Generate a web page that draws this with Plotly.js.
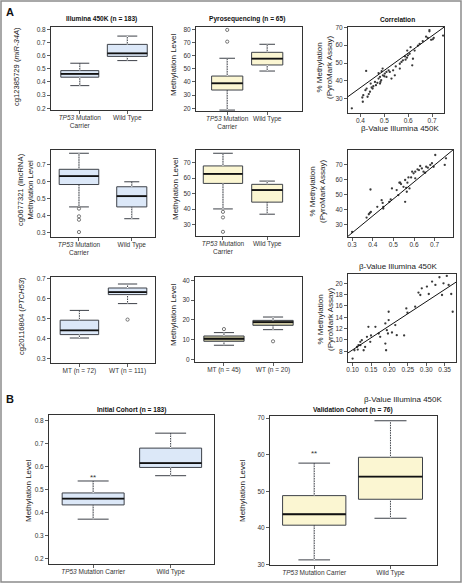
<!DOCTYPE html>
<html><head><meta charset="utf-8">
<script src="https://cdn.plot.ly/plotly-3.0.1.min.js"></script>
<style>html,body{margin:0;padding:0;background:#fff}#chart{width:462px;height:583px}</style>
</head><body><div id="chart"></div>
<script>
// ================= DATA =================
// Category tick labels
const labTP53two = ['<i>TP53</i> Mutation<br>Carrier', 'Wild Type'];
const labTP53one = ['<i>TP53</i> Mutation Carrier', 'Wild Type'];
const labMT450 = ['MT (n = 72)', 'WT (n = 111)'];
const labMTPyro = ['MT (n = 45)', 'WT (n = 20)'];

// Row 1: cg12385729 (miR-34A) - Illumina 450K
const a1Q1 = [0.436, 0.594], a1Med = [0.461, 0.617], a1Q3 = [0.486, 0.685], a1Lo = [0.372, 0.562], a1Hi = [0.542, 0.748];
const a1OutX = [], a1OutY = [];
// Row 1: Pyrosequencing
const a2Q1 = [33.9, 52.9], a2Med = [39.0, 57.7], a2Q3 = [44.5, 62.5], a2Lo = [18.7, 48.3], a2Hi = [58.0, 68.6];
const a2OutX = [0, 0], a2OutY = [79.5, 70.6];
// Row 1: correlation
const a3X = [0.364,0.410,0.408,0.412,0.421,0.426,0.435,0.440,0.447,0.454,0.461,0.471,0.476,0.482,0.487,0.494,0.482,0.493,0.489,0.484,0.500,0.502,0.509,0.523,0.530,0.537,0.424,0.572,0.565,0.578,0.587,0.595,0.599,0.606,0.596,0.610,0.620,0.617,0.641,0.648,0.675,0.689,0.689,0.696,0.703,0.707,0.746,0.509,0.544,0.565,0.465,0.451,0.430,0.518,0.548,0.589,0.627,0.661,0.682,0.443,0.476];
const a3Y = [24.6,28.3,30.7,32.0,34.8,35.7,32.6,33.9,36.3,37.0,39.4,38.9,41.3,38.5,40.4,43.1,42.2,46.9,45.4,39.4,42.6,44.1,45.0,45.0,41.3,45.9,45.6,50.6,49.6,51.5,53.7,53.0,54.3,55.2,57.0,58.9,52.4,48.7,59.8,60.7,64.8,67.8,68.5,63.0,63.3,64.1,65.4,42.2,43.1,46.9,37.6,35.7,31.1,45.9,48.1,51.9,57.0,62.2,64.1,38.5,44.4];
const a3Fit = [-2.5, 96.8]; // intercept, slope

// Row 2: cg0677321 (lincRNA) - Illumina
const b1Q1 = [0.582, 0.451], b1Med = [0.631, 0.514], b1Q3 = [0.671, 0.569], b1Lo = [0.451, 0.382], b1Hi = [0.765, 0.598];
const b1OutX = [0, 0, 0, 0], b1OutY = [0.441, 0.396, 0.376, 0.304];
// Row 2: Pyrosequencing
const b2Q1 = [56.6, 44.5], b2Med = [62.7, 52.3], b2Q3 = [67.9, 56.0], b2Lo = [40.1, 36.7], b2Hi = [76.1, 58.1];
const b2OutX = [0, 0, 0], b2OutY = [38.2, 34.6, 25.3];
// Row 2: correlation
const b3X = [0.300,0.370,0.381,0.386,0.391,0.389,0.422,0.443,0.448,0.451,0.451,0.480,0.487,0.493,0.516,0.524,0.529,0.537,0.549,0.557,0.562,0.565,0.557,0.568,0.578,0.591,0.598,0.606,0.617,0.624,0.630,0.638,0.646,0.654,0.659,0.667,0.679,0.687,0.695,0.703,0.749,0.755,0.533,0.586,0.606,0.573];
const b3Y = [25.1,34.7,36.9,37.8,38.4,53.3,41.8,46.2,44.4,40.7,41.8,45.1,46.7,54.0,52.9,49.6,57.8,56.9,55.1,59.6,54.4,51.8,45.1,57.8,54.0,65.1,64.0,65.1,66.7,66.2,68.9,67.3,65.1,64.4,68.4,67.8,69.6,70.7,68.4,76.2,69.6,74.0,57.8,61.3,60.7,61.3];
const b3Fit = [-9.2, 112.5];

// Row 3: cg20116804 (PTCH53) - Illumina
const c1Q1 = [0.420, 0.620], c1Med = [0.441, 0.632], c1Q3 = [0.492, 0.653], c1Lo = [0.403, 0.575], c1Hi = [0.541, 0.673];
const c1OutX = [1], c1OutY = [0.495];
// Row 3: Pyrosequencing
const c2Q1 = [9.1, 17.2], c2Med = [10.4, 18.8], c2Q3 = [11.8, 19.7], c2Lo = [7.1, 15.0], c2Hi = [13.5, 21.4];
const c2OutX = [0, 1], c2OutY = [15.3, 9.1];
// Row 3: correlation
const c3X = [0.100,0.105,0.112,0.114,0.116,0.121,0.121,0.125,0.130,0.134,0.139,0.143,0.148,0.150,0.162,0.171,0.175,0.189,0.189,0.191,0.193,0.196,0.198,0.198,0.207,0.216,0.220,0.246,0.249,0.270,0.279,0.284,0.288,0.302,0.307,0.316,0.325,0.336,0.343,0.347,0.356,0.361,0.368,0.372,0.240];
const c3Y = [6.70,8.18,8.77,8.30,9.07,9.66,9.07,9.95,8.18,8.77,10.54,12.32,9.66,10.78,12.32,11.14,10.54,12.91,9.36,8.18,11.73,11.14,14.98,13.50,11.31,12.62,10.84,15.57,14.80,15.87,18.36,17.94,19.12,19.42,18.12,20.31,19.72,21.08,17.94,20.01,21.31,19.72,18.12,14.98,10.8];
const c3Fit = [3.98, 42.6];

// Panel B: Initial cohort (Illumina, n = 183)
const d1Q1 = [0.434, 0.597], d1Med = [0.461, 0.616], d1Q3 = [0.486, 0.681], d1Lo = [0.372, 0.561], d1Hi = [0.538, 0.746];
const d1Sig = ['**', ''], d1SigY = [0.552, null];
// Panel B: Validation cohort (n = 76)
const d2Q1 = [40.7, 47.8], d2Med = [43.7, 54.0], d2Q3 = [48.8, 59.3], d2Lo = [31.2, 42.6], d2Hi = [57.7, 69.3];
const d2Sig = ['**', ''], d2SigY = [60.2, null];

// Tick values
const tBeta28 = [0.2,0.3,0.4,0.5,0.6,0.7,0.8];
const tBeta37 = [0.3,0.4,0.5,0.6,0.7];
const tBeta47 = [0.4,0.5,0.6,0.7];
const tPyro2080 = [20,30,40,50,60,70,80];
const tPyro3070 = [30,40,50,60,70];
const tPyro040 = [0,10,20,30,40];
const tBeta1035 = [0.10,0.15,0.20,0.25,0.30,0.35];
const tPyro820 = [8,10,12,14,16,18,20];

// ================= LAYOUT HELPERS =================
const W = 462, H = 583;
const F = 'Liberation Sans, Arial, Helvetica, sans-serif';
const px = x => x / W, py = y => 1 - y / H;
const BLUE = '#dce8f8', YELLOW = '#fbf6d2', KHAKI = '#cdc8a2';
const traces = [];
const layout = {
  width: W, height: H, margin: {l: 0, r: 0, t: 0, b: 0},
  paper_bgcolor: '#fff', plot_bgcolor: '#fff', showlegend: false,
  font: {family: F, color: '#222'}, annotations: [], shapes: []
};
const xa = k => 'xaxis' + (k === 1 ? '' : k), ya = k => 'yaxis' + (k === 1 ? '' : k);
const xr = k => 'x' + (k === 1 ? '' : k), yr = k => 'y' + (k === 1 ? '' : k);

function axes(k, rect, xRange, yRange, xt, yt) {
  const common = {
    showline: true, mirror: true, linecolor: '#333', linewidth: 1,
    ticks: 'outside', ticklen: 3, tickwidth: 0.8, tickcolor: '#333',
    showgrid: false, zeroline: false, fixedrange: true,
    tickfont: {family: F, size: 6.5, color: '#333'}
  };
  layout[xa(k)] = Object.assign({}, common, {
    domain: [px(rect[0]), px(rect[1])], range: xRange, anchor: yr(k),
    tickmode: 'array', tickvals: xt.vals, ticktext: xt.text, tickformat: xt.fmt,
    ticklabelstandoff: -2
  });
  layout[ya(k)] = Object.assign({}, common, {
    domain: [py(rect[3]), py(rect[2])], range: yRange, anchor: xr(k),
    tickmode: 'array', tickvals: yt.vals, tickformat: yt.fmt
  });
}

function boxes(k, q1, med, q3, lo, hi, outX, outY, fill, widths) {
  for (let i = 0; i < q1.length; i++) {
    const w = widths[i];
    traces.push({type: 'box', x: [i], q1: [q1[i]], median: [med[i]], q3: [q3[i]],
      lowerfence: [lo[i]], upperfence: [hi[i]], width: w, whiskerwidth: 0.5,
      fillcolor: fill, line: {color: '#3d4148', width: 1}, boxpoints: false,
      xaxis: xr(k), yaxis: yr(k), hoverinfo: 'skip'});
    // dotted appearance of whiskers
    traces.push({type: 'scatter', mode: 'lines', x: [i, i, null, i, i], y: [q3[i], hi[i], null, lo[i], q1[i]],
      line: {color: '#ffffff', width: 1.2, dash: '1px,1.5px'}, xaxis: xr(k), yaxis: yr(k), hoverinfo: 'skip'});
    // heavy median
    traces.push({type: 'scatter', mode: 'lines', x: [i - w / 2, i + w / 2], y: [med[i], med[i]],
      line: {color: '#111', width: 1.8}, xaxis: xr(k), yaxis: yr(k), hoverinfo: 'skip'});
  }
  if (outX && outX.length) {
    traces.push({type: 'scatter', mode: 'markers', x: outX, y: outY,
      marker: {symbol: 'circle-open', size: 3.2, color: '#555', line: {width: 0.8}},
      xaxis: xr(k), yaxis: yr(k), hoverinfo: 'skip'});
  }
}

function corr(k, x, y, fit, xRange) {
  traces.push({type: 'scatter', mode: 'markers', x: x, y: y,
    marker: {size: 2.3, color: '#3a3a3a'}, xaxis: xr(k), yaxis: yr(k), hoverinfo: 'skip'});
  traces.push({type: 'scatter', mode: 'lines', x: xRange, y: xRange.map(v => fit[0] + fit[1] * v),
    line: {color: '#111', width: 1}, xaxis: xr(k), yaxis: yr(k), hoverinfo: 'skip'});
}

function txt(text, x, y, opts) {
  layout.annotations.push(Object.assign({text: text, x: px(x), y: py(y), xref: 'paper', yref: 'paper',
    showarrow: false, xanchor: 'center', yanchor: 'middle',
    font: {family: F, size: 8, color: '#222'}}, opts || {}));
}

// ================= PANELS =================
// Row 1
axes(1, [51, 152, 27, 110], [-0.606, 1.52], [0.187, 0.817], {vals: [0, 1], text: labTP53two}, {vals: tBeta28, fmt: '.1f'});
boxes(1, a1Q1, a1Med, a1Q3, a1Lo, a1Hi, a1OutX, a1OutY, BLUE, [0.8, 0.84]);
axes(2, [196, 302, 27, 111], [-0.78, 1.87], [18, 81.7], {vals: [0, 1], text: labTP53two}, {vals: tPyro2080});
boxes(2, a2Q1, a2Med, a2Q3, a2Lo, a2Hi, a2OutX, a2OutY, YELLOW, [0.78, 0.78]);
const x3r = [0.348, 0.75];
axes(3, [348, 444, 27, 113], x3r, [22, 70.2], {vals: tBeta47, fmt: '.1f'}, {vals: tPyro3070});
corr(3, a3X, a3Y, a3Fit, x3r);

// Row 2
axes(4, [51, 155, 150, 237], [-0.53, 1.44], [0.275, 0.784], {vals: [0, 1], text: labTP53two}, {vals: tBeta37, fmt: '.1f'});
boxes(4, b1Q1, b1Med, b1Q3, b1Lo, b1Hi, b1OutX, b1OutY, BLUE, [0.75, 0.57]);
axes(5, [196, 299, 150, 236], [-0.61, 1.72], [22.6, 78.2], {vals: [0, 1], text: labTP53two}, {vals: tPyro3070});
boxes(5, b2Q1, b2Med, b2Q3, b2Lo, b2Hi, b2OutX, b2OutY, YELLOW, [0.89, 0.70]);
const x6r = [0.28, 0.789];
axes(6, [348, 453, 150, 237], x6r, [21.8, 79.5], {vals: tBeta37, fmt: '.1f'}, {vals: tPyro3070});
corr(6, b3X, b3Y, b3Fit, x6r);

// Row 3
axes(7, [51, 155, 277, 363], [-0.59, 1.57], [0.278, 0.708], {vals: [0, 1], text: labMT450}, {vals: tBeta37, fmt: '.1f'});
boxes(7, c1Q1, c1Med, c1Q3, c1Lo, c1Hi, c1OutX, c1OutY, BLUE, [0.8, 0.8]);
axes(8, [195, 302, 277, 362], [-0.59, 1.59], [-1.4, 41.7], {vals: [0, 1], text: labMTPyro}, {vals: tPyro040});
boxes(8, c2Q1, c2Med, c2Q3, c2Lo, c2Hi, c2OutX, c2OutY, KHAKI, [0.82, 0.82]);
const x9r = [0.0875, 0.381];
axes(9, [348, 456, 274, 362], x9r, [6.1, 21.65], {vals: tBeta1035, fmt: '.2f'}, {vals: tPyro820});
corr(9, c3X, c3Y, c3Fit, x9r);

// Panel B
axes(10, [49, 214, 415, 564], [-0.57, 1.56], [0.177, 0.825], {vals: [0, 1], text: labTP53one}, {vals: tBeta28, fmt: '.1f'});
boxes(10, d1Q1, d1Med, d1Q3, d1Lo, d1Hi, [], [], BLUE, [0.8, 0.8]);
axes(11, [270, 437, 416, 565], [-0.58, 1.61], [29.8, 70.6], {vals: [0, 1], text: labTP53one}, {vals: tPyro3070});
boxes(11, d2Q1, d2Med, d2Q3, d2Lo, d2Hi, [], [], YELLOW, [0.83, 0.84]);

// significance marks
[[10, d1Sig, d1SigY], [11, d2Sig, d2SigY]].forEach(([k, s, sy]) => {
  s.forEach((t, i) => { if (t) layout.annotations.push({text: t, x: i, y: sy[i], xref: xr(k), yref: yr(k),
    showarrow: false, font: {family: F, size: 8, color: '#333'}}); });
});

// ================= TEXT =================
const bold = {font: {family: F, size: 6.6, color: '#111'}};
txt('<b>A</b>', 10, 12, {font: {family: F, size: 11, color: '#111'}});
txt('<b>B</b>', 10, 399, {font: {family: F, size: 11, color: '#111'}});
txt('<b>Illumina 450K (n = 183)</b>', 101.5, 19.5, bold);
txt('<b>Pyrosequencing (n = 65)</b>', 247, 19.5, bold);
txt('<b>Correlation</b>', 397, 19.5, bold);
txt('<b>Initial Cohort (n = 183)</b>', 131.5, 409.5, bold);
txt('<b>Validation Cohort (n = 76)</b>', 353, 409.5, bold);

const rot = {textangle: -90};
const f8 = {family: F, size: 8, color: '#222'};
const f76 = {family: F, size: 7.6, color: '#222'};
txt('cg12385729 (<i>miR-34A</i>)', 16, 67, Object.assign({font: f76}, rot));
txt('Methylation Level', 173, 65, Object.assign({font: f8}, rot));
txt('% Methylation<br>(PyroMark Assay)', 324, 68, Object.assign({font: f8}, rot));
txt('cg0677321 (lincRNA)<br>Methylation Level', 25, 190, Object.assign({font: f76}, rot));
txt('Methylation Level', 175, 189, Object.assign({font: f8}, rot));
txt('% Methylation<br>(PyroMark Assay)', 318, 192, Object.assign({font: f8}, rot));
txt('cg20116804 (<i>PTCH53</i>)', 21, 316, Object.assign({font: f76}, rot));
txt('Methylation Level', 173, 315, Object.assign({font: f8}, rot));
txt('% Methylation<br>(PyroMark Assay)', 325, 320, Object.assign({font: f8}, rot));
txt('Methylation Level', 28, 491, Object.assign({font: f8}, rot));
txt('Methylation Level', 242, 491, Object.assign({font: f8}, rot));
txt('β-Value Illumina 450K', 400, 128.5, {font: f8});
txt('β-Value Illumina 450K', 398, 266.5, {font: f8});
txt('β-Value Illumina 450K', 403, 399, {font: f8});

// outer frame
layout.shapes.push({type: 'rect', xref: 'paper', yref: 'paper', x0: px(1), x1: px(461), y0: py(582), y1: py(1),
  line: {color: '#8c8c8c', width: 1.5}});

Plotly.newPlot('chart', traces, layout, {staticPlot: true, displayModeBar: false});
</script>
</body></html>
